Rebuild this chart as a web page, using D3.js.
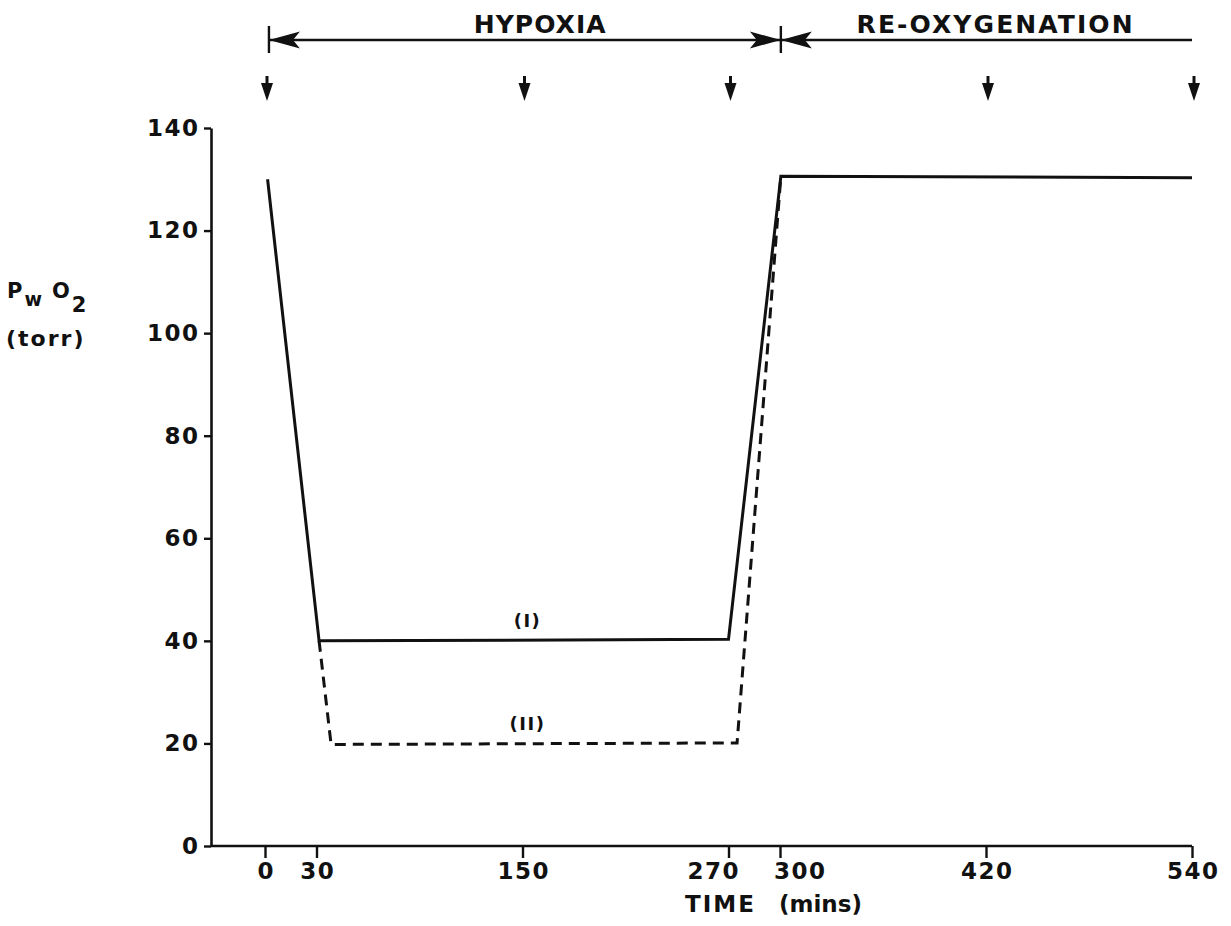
<!DOCTYPE html>
<html><head><meta charset="utf-8">
<script src="https://cdn.jsdelivr.net/npm/d3@7"></script>
<style>
body{margin:0;background:#fff}
text{font-family:"DejaVu Sans",sans-serif;font-weight:bold;fill:#111}
</style>
</head><body>
<svg id="c" width="1231" height="926"></svg>
<script>
// ---- data ----
const xTicks = [0, 30, 150, 270, 300, 420, 540];
const yTicks = [0, 20, 40, 60, 80, 100, 120, 140];
const seriesITime  = [1.5, 31.5, 270, 300.5, 540];
const seriesIValue = [130, 40, 40.3, 130.6, 130.3];
const seriesIITime  = [31.5, 38.5, 275, 300.5];
const seriesIIValue = [40, 19.8, 20.1, 130.6];
const sampleTimes = [0, 150, 270, 420, 540];
const phaseLabels = ["HYPOXIA", "RE-OXYGENATION"];
const phaseStart = [2.3, 300.5];
const phaseEnd = [300.5, 540];
const phaseLabelAt = [160, 425];
const seriesNames = ["(I)", "(II)"];

// ---- layout ----
const svg = d3.select("#c");
const x = d3.scaleLinear().domain([0, 540]).range([265, 1192]);
const y = d3.scaleLinear().domain([0, 140]).range([846, 128]);
const axisX0 = 211;
const ink = "#111";
const FONT = '"DejaVu Sans",sans-serif';

// y axis
const gy = svg.append("g").attr("transform", `translate(${axisX0},0)`)
  .call(d3.axisLeft(y).tickValues(yTicks).tickSize(7).tickSizeOuter(0).tickPadding(4.5));
gy.select(".domain").attr("stroke", ink).attr("stroke-width", 2.6);
gy.selectAll(".tick line").attr("stroke", ink).attr("stroke-width", 2.4);
gy.selectAll(".tick text").attr("font-size", 23).attr("letter-spacing", 1.5)
  .attr("fill", ink).attr("font-family", FONT).attr("font-weight", "bold");

// x axis
const gx = svg.append("g").attr("transform", `translate(0,${y(0)})`)
  .call(d3.axisBottom(x).tickValues(xTicks).tickSize(12).tickSizeOuter(0).tickPadding(5));
gx.select(".domain").remove();
gx.append("line").attr("x1", axisX0).attr("x2", x(540)).attr("y1", 0).attr("y2", 0)
  .attr("stroke", ink).attr("stroke-width", 2.6);
gx.selectAll(".tick line").attr("stroke", ink).attr("stroke-width", 2.4);
const xLabelShift = {270: -16, 300: 19};
gx.selectAll(".tick text").attr("font-size", 23).attr("letter-spacing", 1.5)
  .attr("fill", ink).attr("font-family", FONT).attr("font-weight", "bold")
  .attr("dx", d => (xLabelShift[d] || 0) + 0.75);

// x title
const xt = svg.append("text").attr("y", 912).attr("font-size", 23);
xt.append("tspan").attr("x", 685).attr("letter-spacing", 2).text("TIME");
xt.append("tspan").attr("x", 779).attr("letter-spacing", 0).text("(mins)");

// y title
const yt = svg.append("text").attr("x", 7).attr("y", 298).attr("font-size", 21);
yt.append("tspan").text("P");
yt.append("tspan").attr("font-size", 19).attr("dy", 8).attr("dx", 2).text("w");
yt.append("tspan").attr("dy", -8).attr("dx", 10).text("O");
yt.append("tspan").attr("font-size", 21).attr("dy", 14).attr("dx", 2).text("2");
svg.append("text").attr("x", 6).attr("y", 346).attr("font-size", 22).attr("letter-spacing", 2).text("(torr)");

// data lines
const line = d3.line().x(d => x(d[0])).y(d => y(d[1]));
const ptsI = seriesITime.map((t, i) => [t, seriesIValue[i]]);
const ptsII = seriesIITime.map((t, i) => [t, seriesIIValue[i]]);
svg.append("path").datum(ptsII).attr("d", line).attr("fill", "none")
  .attr("stroke", ink).attr("stroke-width", 3).attr("stroke-dasharray", "11,7");
svg.append("path").datum(ptsI).attr("d", line).attr("fill", "none")
  .attr("stroke", ink).attr("stroke-width", 3).attr("stroke-linejoin", "miter");

// series labels
svg.append("text").attr("x", x(150) + 5).attr("y", y(seriesIValue[2]) - 12)
  .attr("text-anchor", "middle").attr("font-size", 18).attr("letter-spacing", 1.5).text(seriesNames[0]);
svg.append("text").attr("x", x(150) + 5).attr("y", y(seriesIIValue[2]) - 13)
  .attr("text-anchor", "middle").attr("font-size", 18).attr("letter-spacing", 1.5).text(seriesNames[1]);

// phase header
const hy = 40;
function arrowHead(tipX, dir) { // dir -1 points left, +1 points right
  const L = 31, W = 8.5, N = 24;
  return `M${tipX},${hy} L${tipX - dir * L},${hy - W} L${tipX - dir * N},${hy} L${tipX - dir * L},${hy + W} Z`;
}
phaseLabels.forEach((lab, i) => {
  const x0 = x(phaseStart[i]), x1 = x(phaseEnd[i]);
  svg.append("line").attr("x1", x0).attr("x2", x1).attr("y1", hy).attr("y2", hy)
    .attr("stroke", ink).attr("stroke-width", 2.4);
  svg.append("line").attr("x1", x0).attr("x2", x0).attr("y1", hy - 14).attr("y2", hy + 13)
    .attr("stroke", ink).attr("stroke-width", 2.4);
  svg.append("path").attr("d", arrowHead(x0, -1)).attr("fill", ink);
  if (i === 0) svg.append("path").attr("d", arrowHead(x1, 1)).attr("fill", ink);
  svg.append("text").attr("x", x(phaseLabelAt[i])).attr("y", 33).attr("text-anchor", "middle")
    .attr("font-size", 25).attr("textLength", i === 0 ? 132 : 276).attr("lengthAdjust", "spacing")
    .text(lab);
});

// sample arrows
sampleTimes.forEach(t => {
  const cx = x(t) + 2;
  svg.append("line").attr("x1", cx).attr("x2", cx).attr("y1", 76).attr("y2", 88)
    .attr("stroke", ink).attr("stroke-width", 3);
  svg.append("path").attr("d", `M${cx - 6},${83} L${cx + 6},${83} L${cx},${101} Z`).attr("fill", ink);
});
</script>
</body></html>
